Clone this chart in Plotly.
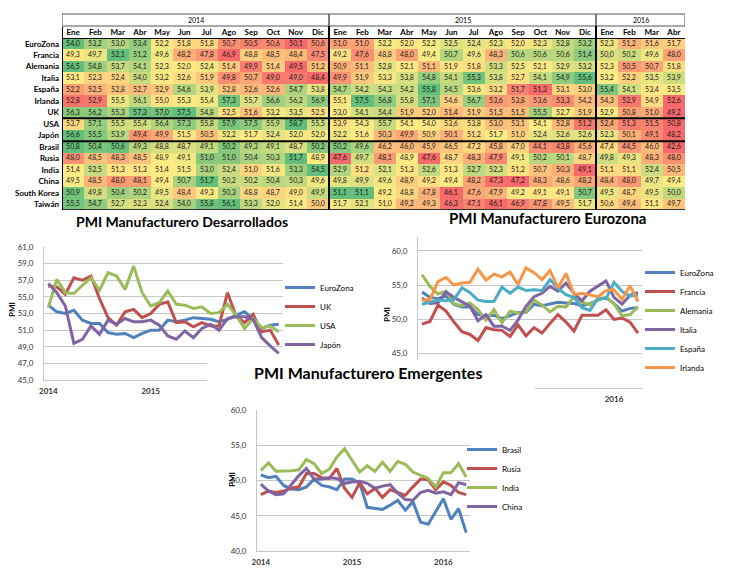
import plotly.graph_objects as go
import numpy as np

# page is 730x579, the html body keeps an 8px margin -> figure drawn at (8, 8)
OFF = 8
W, H = 730 - 2 * OFF, 579 - 2 * OFF
def X(px): return (px - OFF) / W
def Y(py): return 1 - (py - OFF) / H

# ---------------- data ----------------
months = ["Ene","Feb","Mar","Abr","May","Jun","Jul","Ago","Sep","Oct","Nov","Dic"] * 2 + ["Ene","Feb","Mar","Abr"]
years = ["2014", "2015", "2016"]
year_start_idx = [0, 12, 24]
countries = ["EuroZona","Francia","Alemania","Italia","España","Irlanda","UK","USA","Japón",
             "Brasil","Rusia","India","China","South Korea","Taiwán"]

eurozona = [54.0,53.2,53.0,53.4,52.2,51.8,51.8,50.7,50.5,50.6,50.1,50.6,
            51.0,51.0,52.2,52.0,52.2,52.5,52.4,52.3,52.0,52.3,52.8,53.2, 52.3,51.2,51.6,51.7]
francia = [49.3,49.7,52.1,51.2,49.6,48.2,47.8,46.9,48.8,48.5,48.4,47.5,
           49.2,47.6,48.8,48.0,49.4,50.7,49.6,48.3,50.6,50.6,50.6,51.4, 50.0,50.2,49.6,48.0]
alemania = [56.5,54.8,53.7,54.1,52.3,52.0,52.4,51.4,49.9,51.4,49.5,51.2,
            50.9,51.1,52.8,52.1,51.1,51.9,51.8,53.3,52.5,52.1,52.9,53.2, 52.3,50.5,50.7,51.8]
italia = [53.1,52.3,52.4,54.0,53.2,52.6,51.9,49.8,50.7,49.0,49.0,48.4,
          49.9,51.9,53.3,53.8,54.8,54.1,55.3,53.8,52.7,54.1,54.9,55.6, 53.2,52.2,53.5,53.9]
espana = [52.2,52.5,52.8,52.7,52.9,54.6,53.9,52.8,52.6,52.6,54.7,53.8,
          54.7,54.2,54.3,54.2,55.8,54.5,53.6,53.2,51.7,51.3,53.1,53.0, 55.4,54.1,53.4,53.5]
irlanda = [52.8,52.9,55.5,56.1,55.0,55.3,55.4,57.3,55.7,56.6,56.2,56.9,
           55.1,57.5,56.8,55.8,57.1,54.6,56.7,53.6,53.8,53.6,53.3,54.2, 54.3,52.9,54.9,52.6]
uk = [56.3,56.2,55.3,57.3,57.0,57.5,54.8,52.5,51.6,53.2,53.5,52.5,
      53.0,54.1,54.4,51.9,52.0,51.4,51.9,51.5,51.5,55.5,52.7,51.9, 52.9,50.8,51.0,49.2]
usa = [53.7,57.1,55.5,55.4,56.4,57.3,55.8,57.9,57.5,55.9,58.7,55.5,
       53.9,54.3,55.7,54.1,54.0,53.6,53.8,53.0,53.1,54.1,52.8,51.2, 52.4,51.3,51.5,50.8]
japon = [56.6,55.5,53.9,49.4,49.9,51.5,50.5,52.2,51.7,52.4,52.0,52.0,
         52.2,51.6,50.3,49.9,50.9,50.1,51.2,51.7,51.0,52.4,52.6,52.6, 52.3,50.1,49.1,48.2]
brasil = [50.8,50.4,50.6,49.3,48.8,48.7,49.1,50.2,49.3,49.1,48.7,50.2,
          50.2,49.6,46.2,46.0,45.9,46.5,47.2,45.8,47.0,44.1,43.8,45.6, 47.4,44.5,46.0,42.6]
rusia = [48.0,48.5,48.3,48.5,48.9,49.1,51.0,51.0,50.4,50.3,51.7,48.9,
         47.6,49.7,48.1,48.9,47.6,48.7,48.3,47.9,49.1,50.2,50.1,48.7, 49.8,49.3,48.3,48.0]
india = [51.4,52.5,51.3,51.3,51.4,51.5,53.0,52.4,51.0,51.6,53.3,54.5,
         52.9,51.2,52.1,51.3,52.6,51.3,52.7,52.3,51.2,50.7,50.3,49.1, 51.1,51.1,52.4,50.5]
china = [49.5,48.5,48.0,48.1,49.4,50.7,51.7,50.2,50.2,50.4,50.3,49.6,
         49.8,49.9,49.6,48.9,49.2,49.4,48.2,47.3,47.2,48.3,48.6,48.2, 48.4,48.0,49.7,49.4]
south_korea = [50.9,49.8,50.4,50.2,49.5,48.4,49.3,50.3,48.8,48.7,49.0,49.9,
               51.1,51.1,49.2,48.8,47.8,46.1,47.6,47.9,49.2,49.1,49.1,50.7, 49.5,48.7,49.5,50.0]
taiwan = [55.5,54.7,52.7,52.3,52.4,54.0,55.8,56.1,53.3,52.0,51.4,50.0,
          51.7,52.1,51.0,49.2,49.3,46.3,47.1,46.1,46.9,47.8,49.5,51.7, 50.6,49.4,51.1,49.7]

table_rows = [eurozona, francia, alemania, italia, espana, irlanda, uk, usa, japon,
              brasil, rusia, india, china, south_korea, taiwan]

dev_names = ["EuroZona", "UK", "USA", "Japón"]
dev_series = [eurozona, uk, usa, japon]
ez_names = ["EuroZona", "Francia", "Alemania", "Italia", "España", "Irlanda"]
ez_series = [eurozona, francia, alemania, italia, espana, irlanda]
em_names = ["Brasil", "Rusia", "India", "China"]
em_series = [brasil, rusia, india, china]

# ---------------- styling ----------------
FONT = "Lato"
excel_colors = ["#4F81BD", "#C0504D", "#9BBB59", "#8064A2", "#4BACC6", "#F79646"]
GRID = "#C6C6C6"

# per-row 3-colour scale (Excel conditional formatting: min / median / max)
zn = []
for r in table_rows:
    a = np.array(r, dtype=float)
    lo, med, hi = a.min(), np.median(a), a.max()
    z = np.where(a <= med, 0.5 * (a - lo) / (med - lo), 0.5 + 0.5 * (a - med) / (hi - med))
    zn.append(z)
txt = [[f"{v:.1f}".replace(".", ",") for v in r] for r in table_rows]

fig = go.Figure()
idx = list(range(len(months)))

fig.add_trace(go.Heatmap(
    x=idx, y=list(range(len(countries))), z=zn, text=txt, texttemplate="%{text}",
    textfont=dict(size=7, family=FONT, color="#1a1a1a"),
    colorscale=[[0, "#F8696B"], [0.5, "#FFEB84"], [1, "#63BE7B"]],
    zmin=0, zmax=1, showscale=False, hoverinfo="skip", xaxis="x", yaxis="y"))

def add_lines(names, series, xa, ya, legend):
    for i, (n, s) in enumerate(zip(names, series)):
        fig.add_trace(go.Scatter(x=idx, y=s, name=n, mode="lines",
                                 line=dict(color=excel_colors[i], width=3),
                                 xaxis=xa, yaxis=ya, legend=legend))

add_lines(dev_names, dev_series, "x2", "y2", "legend")
add_lines(ez_names, ez_series, "x3", "y3", "legend2")
add_lines(em_names, em_series, "x4", "y4", "legend3")

def line_xaxis(dom, yanchor):
    return dict(domain=dom, range=[-0.5, 27.5], tickvals=year_start_idx, ticktext=[f"<b>{y}</b>" for y in years],
                showgrid=False, zeroline=False, showline=True, linecolor=GRID, anchor=yanchor,
                tickfont=dict(size=8, family=FONT, color="#333"), ticks="", ticklabelstandoff=3,
                automargin=False)

def line_yaxis(dom, rng, dtick, xanchor):
    return dict(domain=dom, range=rng, dtick=dtick, tick0=rng[0], tickformat=".1f",
                showgrid=True, gridcolor=GRID, gridwidth=1, zeroline=False,
                showline=True, linecolor=GRID, anchor=xanchor,
                tickfont=dict(size=8, family=FONT, color="#333"), ticks="", ticklabelstandoff=8,
                automargin=False)

layout = dict(
    width=W, height=H, margin=dict(l=0, r=0, t=0, b=0, autoexpand=False),
    paper_bgcolor="white", plot_bgcolor="rgba(0,0,0,0)",
    separators=",.", font=dict(family=FONT, color="#000"),
    xaxis=dict(domain=[X(62), X(685)], range=[-0.5, 27.5], side="top",
               tickvals=idx, ticktext=[f"<b>{m}</b>" for m in months],
               tickfont=dict(size=8, family=FONT, color="#000"), showgrid=False, zeroline=False,
               ticks="", ticklabelstandoff=0, anchor="y", automargin=False),
    yaxis=dict(domain=[Y(210), Y(38)], range=[14.5, -0.5],
               tickvals=list(range(len(countries))), ticktext=[f"<b>{c}</b>" for c in countries],
               tickfont=dict(size=8, family=FONT, color="#000"), showgrid=False, zeroline=False,
               ticks="", ticklabelstandoff=2, anchor="x", automargin=False),
    xaxis2=line_xaxis([X(44), X(283)], "y2"),
    yaxis2=line_yaxis([Y(380), Y(247)], [45, 61], 2, "x2"),
    xaxis3=line_xaxis([X(418), X(642)], "y3"),
    yaxis3=line_yaxis([Y(388), Y(237)], [40, 62], 5, "x3"),
    xaxis4=line_xaxis([X(257), X(470)], "y4"),
    yaxis4=line_yaxis([Y(551), Y(410)], [40, 60], 5, "x4"),
    legend=dict(x=X(280), y=Y(316), xanchor="left", yanchor="middle",
                font=dict(size=8, family=FONT), bgcolor="rgba(0,0,0,0)", itemwidth=30),
    legend2=dict(x=X(640), y=Y(320), xanchor="left", yanchor="middle",
                 font=dict(size=8, family=FONT), bgcolor="rgba(0,0,0,0)", itemwidth=30),
    legend3=dict(x=X(462), y=Y(478), xanchor="left", yanchor="middle",
                 font=dict(size=8, family=FONT), bgcolor="rgba(0,0,0,0)", itemwidth=30),
)
fig.update_layout(**layout)

shapes = []
# year header boxes
for y0, y1, lab in [(-0.5, 11.5, "2014"), (11.5, 23.5, "2015"), (23.5, 27.5, "2016")]:
    shapes.append(dict(type="rect", xref="x", yref="paper", x0=y0, x1=y1, y0=Y(26), y1=Y(14),
                       line=dict(color="#555", width=1)))
    fig.add_annotation(x=(y0 + y1) / 2, y=Y(20), xref="x", yref="paper", text=lab, showarrow=False,
                       xanchor="center", yanchor="middle",
                       font=dict(size=7, family=FONT, color="#000"))
# table frame & separators
shapes += [
    dict(type="line", xref="x", yref="y", x0=-0.5, x1=27.5, y0=-0.5, y1=-0.5, line=dict(color="#000", width=2)),
    dict(type="line", xref="x", yref="y", x0=-0.5, x1=27.5, y0=14.5, y1=14.5, line=dict(color="#333", width=2)),
    dict(type="line", xref="x", yref="y", x0=-0.5, x1=27.5, y0=6.5, y1=6.5, line=dict(color="#000", width=2)),
    dict(type="line", xref="x", yref="y", x0=-0.5, x1=27.5, y0=8.5, y1=8.5, line=dict(color="#000", width=2)),
    dict(type="line", xref="x", yref="paper", x0=-0.5, x1=-0.5, y0=Y(210), y1=Y(27), line=dict(color="#000", width=2)),
    dict(type="line", xref="x", yref="paper", x0=11.5, x1=11.5, y0=Y(210), y1=Y(26), line=dict(color="#000", width=2)),
    dict(type="line", xref="x", yref="paper", x0=23.5, x1=23.5, y0=Y(210), y1=Y(26), line=dict(color="#000", width=2)),
    # white chart-area of the emergentes chart hiding what lies under it
    dict(type="rect", xref="paper", yref="paper", x0=X(207), x1=X(535), y0=Y(404), y1=Y(360),
         fillcolor="white", line=dict(width=0), layer="above"),
]
fig.update_layout(shapes=shapes)

# titles (left edges as in the reference)
for text, lx, cy, fs in [("PMI Manufacturero Desarrollados", 74, 222, 14),
                         ("PMI Manufacturero Eurozona", 447, 218, 15),
                         ("PMI Manufacturero Emergentes", 252, 372, 16)]:
    fig.add_annotation(x=X(lx), y=Y(cy), xref="paper", yref="paper", text=f"<b>{text}</b>",
                       xanchor="left", yanchor="middle",
                       showarrow=False, font=dict(size=fs, family=FONT, color="#000"))
# axis titles
for cx, cy in [(12, 310), (387, 315), (232, 480)]:
    fig.add_annotation(x=X(cx), y=Y(cy), xref="paper", yref="paper", text="<b>PMI</b>", textangle=-90,
                       xanchor="center", yanchor="middle",
                       showarrow=False, font=dict(size=8, family=FONT, color="#000"))

fig.write_html("out.html")
